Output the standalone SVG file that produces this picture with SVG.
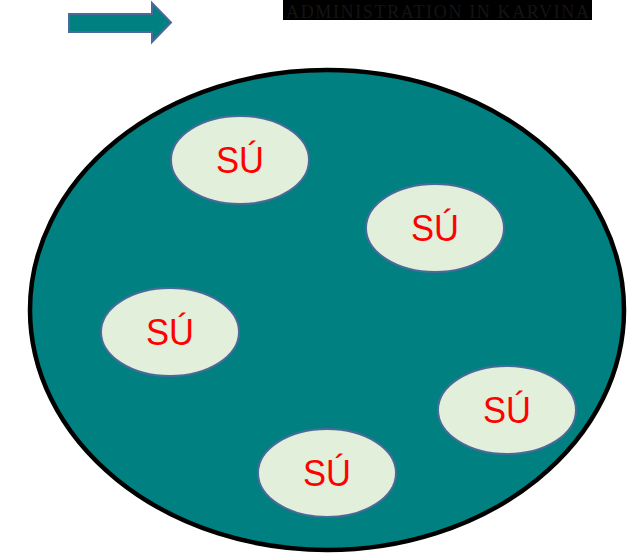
<svg xmlns="http://www.w3.org/2000/svg" width="633" height="556" viewBox="0 0 633 556">
<style>
.node ellipse{fill:#E2EFDA;stroke:#4A6A9A;stroke-width:2}
.node text{font-family:"Liberation Sans",Arial,sans-serif;font-size:37px;fill:#FF0000;text-anchor:middle}
</style>
<rect width="633" height="556" fill="#FFFFFF"/>
<g id="arrow">
<path d="M69,14 L152,14 L152,3 L171,22.5 L152,42 L152,32 L69,32 Z" fill="#008080" stroke="#4A6A9A" stroke-width="2" stroke-linejoin="miter"/>
</g>
<g id="title">
<rect x="283" y="0" width="309" height="20" fill="#000000"/>
<text x="286" y="18" textLength="303" lengthAdjust="spacing" font-family="Liberation Serif,serif" font-size="18" fill="#141414">ADMINISTRATION IN KARVINA</text>
</g>
<g id="outer">
<ellipse cx="327" cy="310" rx="297" ry="240" fill="#008080" stroke="#000000" stroke-width="4.5"/>
</g>
<g id="su1" class="node"><ellipse cx="240" cy="160" rx="69" ry="44"/><text x="240" y="173" textLength="48" lengthAdjust="spacingAndGlyphs">SÚ</text></g>
<g id="su2" class="node"><ellipse cx="435" cy="228" rx="69" ry="44"/><text x="435" y="241" textLength="48" lengthAdjust="spacingAndGlyphs">SÚ</text></g>
<g id="su3" class="node"><ellipse cx="170" cy="332" rx="69" ry="44"/><text x="170" y="345" textLength="48" lengthAdjust="spacingAndGlyphs">SÚ</text></g>
<g id="su4" class="node"><ellipse cx="507" cy="410" rx="69" ry="44"/><text x="507" y="423" textLength="48" lengthAdjust="spacingAndGlyphs">SÚ</text></g>
<g id="su5" class="node"><ellipse cx="327" cy="473" rx="69" ry="44"/><text x="327" y="486" textLength="48" lengthAdjust="spacingAndGlyphs">SÚ</text></g>
<g id="connectors"/>
</svg>
